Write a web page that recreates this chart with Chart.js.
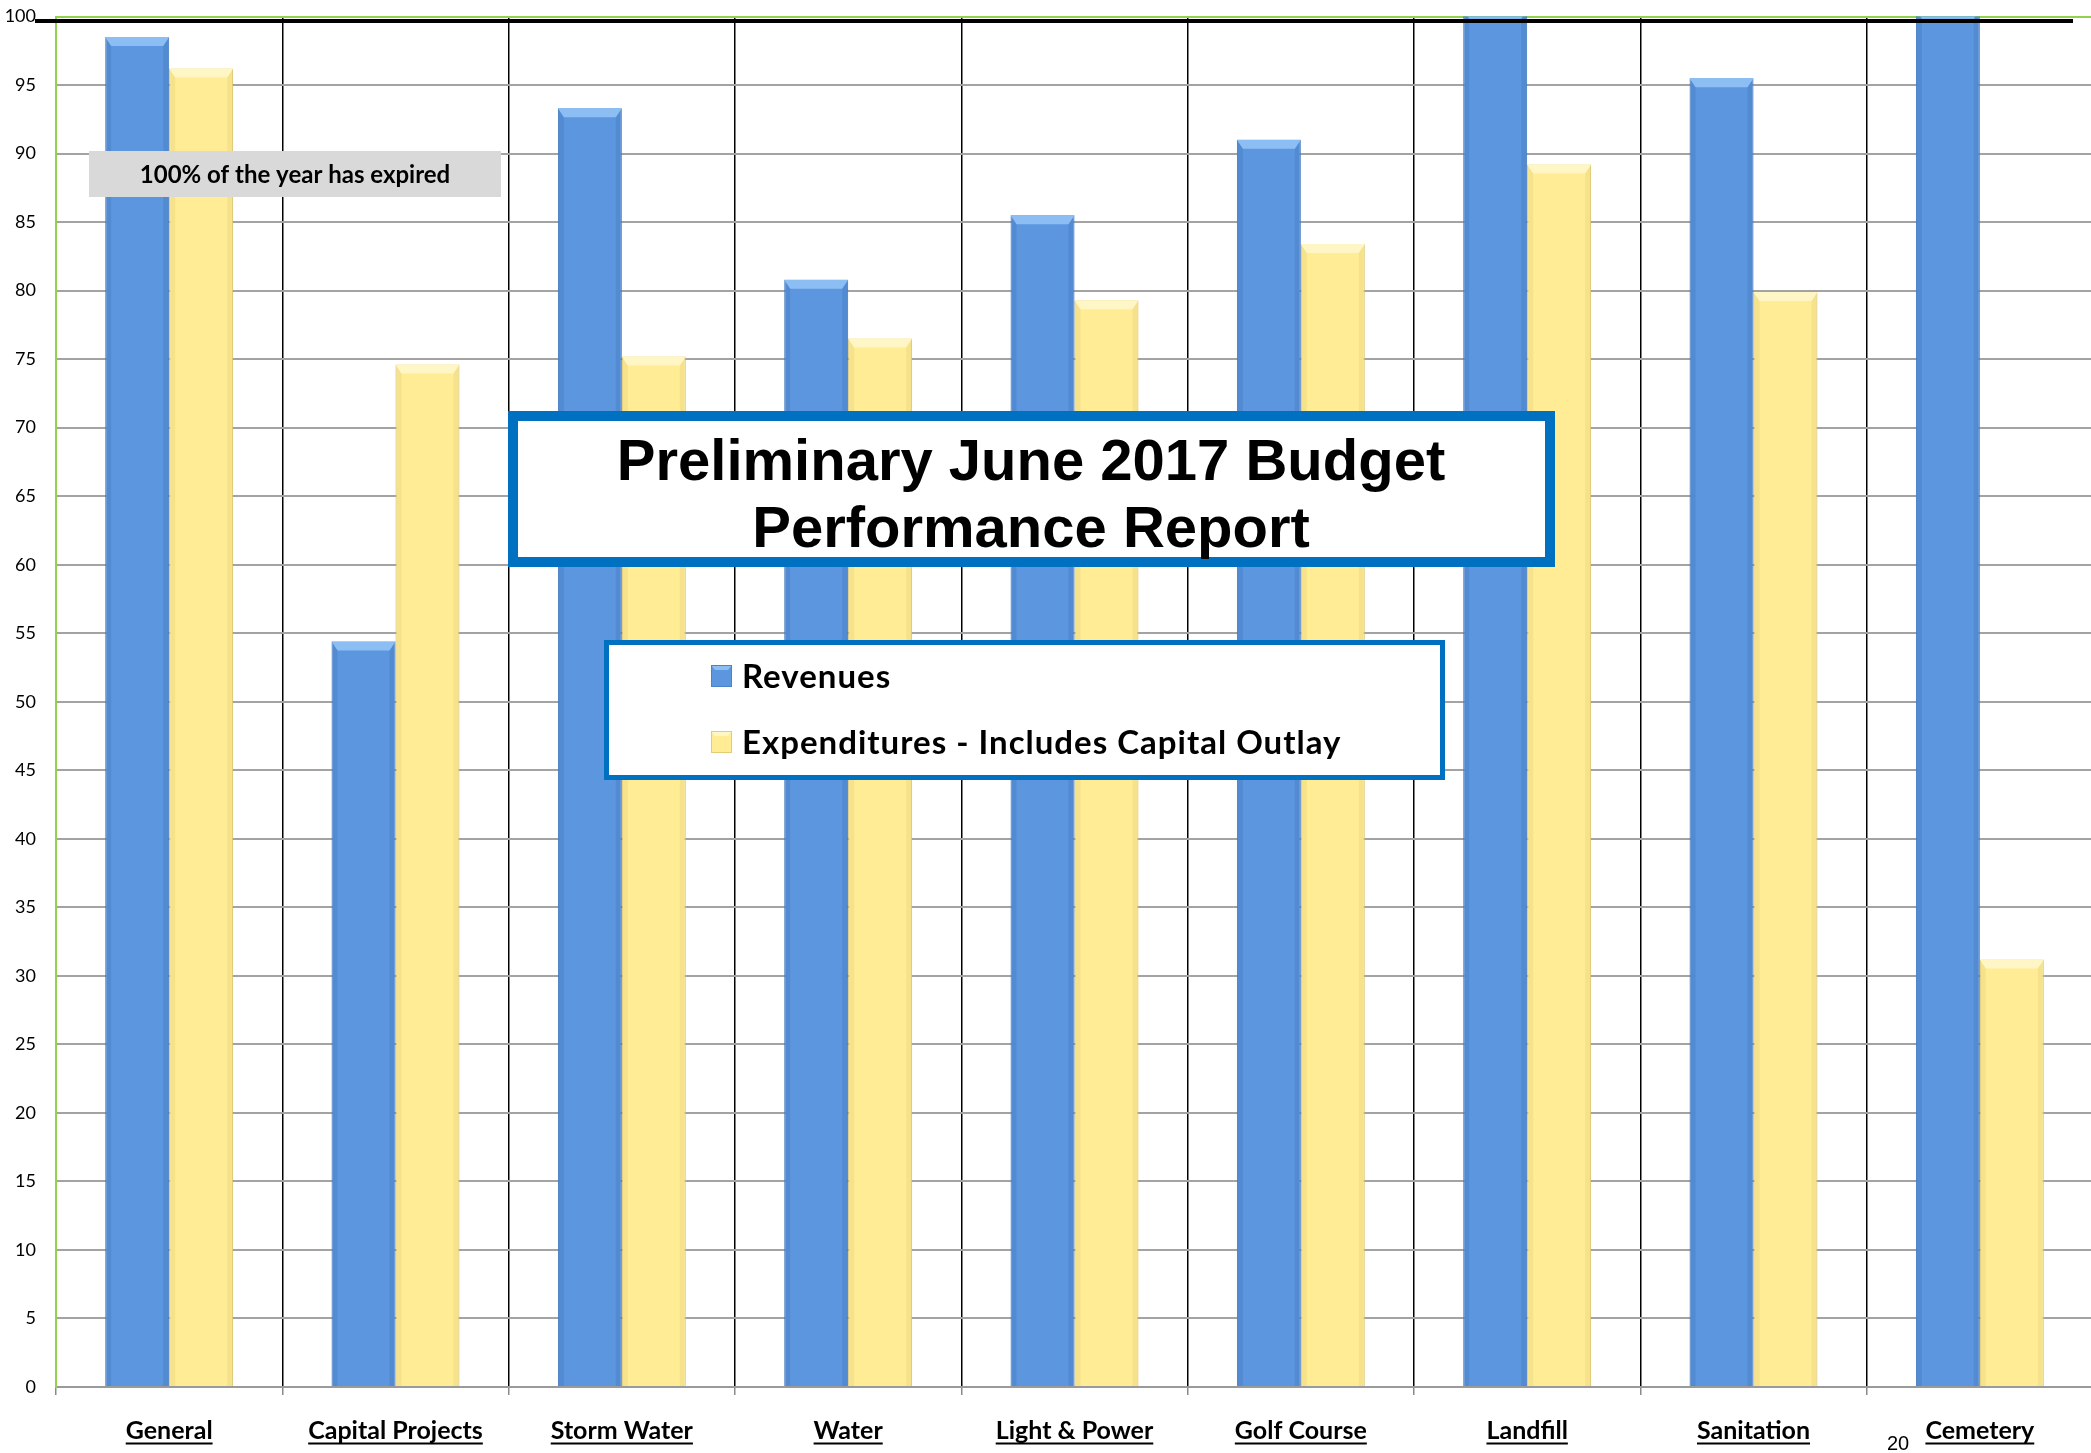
<!DOCTYPE html>
<html>
<head>
<meta charset="utf-8">
<script src="https://cdn.jsdelivr.net/npm/chart.js@4.4.0/dist/chart.umd.min.js"></script>
<style>
	html, body { margin: 0; padding: 0; background: #fff; overflow: hidden; }
	#wrap { position: relative; width: 2093px; height: 1453px; }
</style>
</head>
<body>
<div id="wrap"><canvas id="budgetChart"></canvas></div>
<script>
const funds = ['General', 'Capital Projects', 'Storm Water', 'Water', 'Light & Power', 'Golf Course', 'Landfill', 'Sanitation', 'Cemetery'];
const revenues = [98.5, 54.4, 93.3, 80.8, 85.5, 91.0, 100.5, 95.5, 100.5];
const expenditures = [96.2, 74.6, 75.2, 76.5, 79.3, 83.4, 89.2, 79.9, 31.2];
const seriesNames = ['Revenues', 'Expenditures - Includes Capital Outlay'];
const yTicks = [0, 5, 10, 15, 20, 25, 30, 35, 40, 45, 50, 55, 60, 65, 70, 75, 80, 85, 90, 95, 100];
const titleLines = ['Preliminary June 2017 Budget', 'Performance Report'];
const noteText = '100% of the year has expired';
const pageNumber = '20';

const ctx = document.getElementById('budgetChart');

const barLook = [
	{ fill: '#5B96DF', edge: '#4A83CB', top: '#8CBEF4', side: 'rgba(20, 50, 110, 0.10)' },
	{ fill: '#FFEC94', edge: '#E3CC73', top: '#FFF6C6', side: 'rgba(140, 110, 20, 0.08)' },
];

// little bevelled square like the office legend keys
function drawKey(c, x, y, w, h, look) {
	c.fillStyle = look.fill;
	c.fillRect(x, y, w, h);
	c.fillStyle = look.top;
	c.beginPath();
	c.moveTo(x, y); c.lineTo(x + w, y); c.lineTo(x + w - 4, y + 5); c.lineTo(x + 4, y + 5);
	c.fill();
	c.strokeStyle = look.edge;
	c.lineWidth = 1;
	c.strokeRect(x + 0.5, y + 0.5, w - 1, h - 1);
}

const decor = {
	id: 'decor',
	afterDatasetsDraw(chart) {
		const c = chart.ctx;
		const a = chart.chartArea;
		c.save();
		c.beginPath();
		c.rect(a.left, a.top, a.right - a.left, a.bottom - a.top);
		c.clip();
		chart.data.datasets.forEach((ds, di) => {
			const look = barLook[di];
			chart.getDatasetMeta(di).data.forEach(bar => {
				const l = bar.x - bar.width / 2;
				const r = bar.x + bar.width / 2;
				const t = bar.y;
				const b = bar.base;
				c.fillStyle = look.side;
				c.beginPath();
				c.moveTo(l, t); c.lineTo(l + 6, t + 9); c.lineTo(l + 6, b); c.lineTo(l, b);
				c.fill();
				c.beginPath();
				c.moveTo(r, t); c.lineTo(r - 6, t + 9); c.lineTo(r - 6, b); c.lineTo(r, b);
				c.fill();
				c.fillStyle = look.top;
				c.beginPath();
				c.moveTo(l, t); c.lineTo(r, t); c.lineTo(r - 6, t + 9); c.lineTo(l + 6, t + 9);
				c.fill();
			});
		});
		c.restore();

		// heavy black line just under the 100 mark
		const y100 = chart.scales.y.getPixelForValue(100) + 4.5;
		c.save();
		c.strokeStyle = '#000';
		c.lineWidth = 4;
		c.beginPath();
		c.moveTo(35, y100);
		c.lineTo(2073, y100);
		c.stroke();
		c.restore();
	},
	afterDraw(chart) {
		const c = chart.ctx;
		const xs = chart.scales.x;
		c.save();

		// category labels, bold + underlined
		c.font = 'bold 25px Lato';
		c.fillStyle = '#000';
		c.strokeStyle = '#000';
		c.lineWidth = 2;
		c.textAlign = 'center';
		c.textBaseline = 'alphabetic';
		funds.forEach((name, i) => {
			const x = xs.getPixelForTick(i);
			c.fillText(name, x, 1439);
			const w = c.measureText(name).width;
			c.beginPath();
			c.moveTo(x - w / 2, 1443.5);
			c.lineTo(x + w / 2, 1443.5);
			c.stroke();
		});

		// grey note box
		c.fillStyle = '#D9D9D9';
		c.fillRect(89, 151, 412, 46);
		c.fillStyle = '#000';
		c.font = 'bold 24px Lato';
		c.fillText(noteText, 295, 183);

		// title box
		c.fillStyle = '#fff';
		c.fillRect(508, 411, 1047, 156);
		c.strokeStyle = '#0070C0';
		c.lineWidth = 10;
		c.strokeRect(513, 416, 1037, 146);
		c.fillStyle = '#000';
		c.font = 'bold 58px "Liberation Sans"';
		c.fillText(titleLines[0], 1031, 480);
		c.fillText(titleLines[1], 1031, 547);

		// legend box
		c.fillStyle = '#fff';
		c.fillRect(604, 640, 841, 140);
		c.strokeStyle = '#0070C0';
		c.lineWidth = 5;
		c.strokeRect(606.5, 642.5, 836, 135);
		c.textAlign = 'left';
		c.font = 'bold 33px Lato';
		c.letterSpacing = '1px';
		chart.data.datasets.forEach((ds, di) => {
			const base = 688 + di * 66;
			drawKey(c, 711, base - 23, 21, 22, barLook[di]);
			c.fillStyle = '#000';
			c.fillText(ds.label, 742, base);
		});
		c.letterSpacing = '0px';

		// page number
		c.textAlign = 'center';
		c.font = '20px "Liberation Sans"';
		c.fillStyle = '#000';
		c.fillText(pageNumber, 1898, 1450);
		c.restore();
	}
};

new Chart(ctx, {
	type: 'bar',
	data: {
		labels: funds,
		datasets: [
			{
				label: seriesNames[0],
				data: revenues,
				backgroundColor: barLook[0].fill,
				borderColor: barLook[0].edge,
				borderWidth: 1,
				categoryPercentage: 0.565,
				barPercentage: 1,
				clip: 0,
			},
			{
				label: seriesNames[1],
				data: expenditures,
				backgroundColor: barLook[1].fill,
				borderColor: barLook[1].edge,
				borderWidth: 1,
				categoryPercentage: 0.565,
				barPercentage: 1,
				clip: 0,
			},
		],
	},
	options: {
		responsive: true,
		maintainAspectRatio: false,
		animation: false,
		layout: {
			padding: {
				top: 16.5,
				left: 0,
				right: 0,
				bottom: 0
			}
		},
		plugins: {
			legend: false,
			tooltip: { enabled: false }
		},
		scales: {
			x: {
				grid: {
					offset: true,
					color: c => c.index === 0 ? 'rgba(0,0,0,0)' : '#000',
					lineWidth: 1.5,
					tickLength: 8,
					tickColor: '#8a8a8a'
				},
				border: {
					color: '#9A9A9A',
					width: 2
				},
				ticks: {
					display: false
				},
				afterFit: s => {
					s.height = 66;
					s.paddingLeft = 0;
					s.paddingRight = 0;
				}
			},
			y: {
				min: 0,
				max: 100,
				afterBuildTicks: s => { s.ticks = yTicks.map(v => ({ value: v })); },
				grid: {
					color: c => c.tick && c.tick.value === 100 ? '#92D050' : '#A3A3A3',
					lineWidth: 2,
					drawTicks: false
				},
				border: {
					color: '#92D050',
					width: 2
				},
				ticks: {
					color: '#000',
					padding: 20,
					font: { family: 'Lato', size: 18 }
				},
				afterFit: s => {
					s.width = 56;
					s.paddingTop = 0;
					s.paddingBottom = 0;
				}
			}
		}
	},
	plugins: [decor]
});
</script>
</body>
</html>
